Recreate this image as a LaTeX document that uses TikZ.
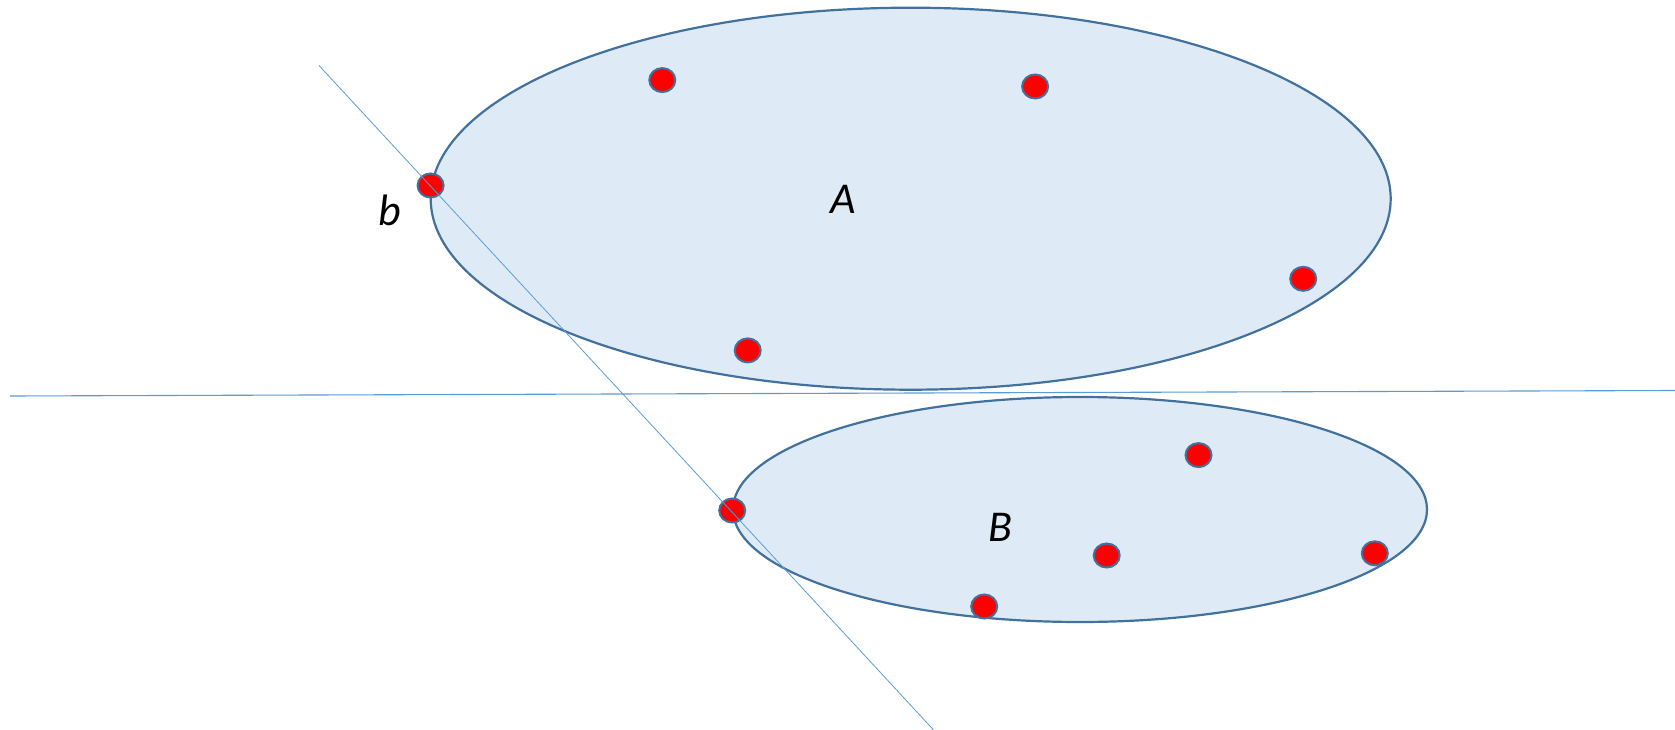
\documentclass[tikz,border=0pt]{standalone}
\usepackage{fontspec}
\setmainfont{Carlito}
\usetikzlibrary{shapes.geometric}
\definecolor{setfill}{HTML}{DEEBF7}
\definecolor{setedge}{HTML}{41719C}
\definecolor{linecol}{HTML}{5B9BD5}
\definecolor{dotred}{HTML}{FF0000}
\begin{document}
\begin{tikzpicture}[x=1pt,y=-1pt,
  setshape/.style={fill=setfill,draw=setedge,line width=2.2pt},
  pt/.style={ellipse,fill=dotred,draw=setedge,line width=2pt,minimum width=26pt,minimum height=24pt,inner sep=0pt},
  sepline/.style={draw=linecol,line width=1.1pt},
  lbl/.style={font=\fontsize{44}{52}\selectfont\itshape,inner sep=0pt}]
\useasboundingbox (0,0) rectangle (1675,730);
% sets
\draw[setshape] (910.7,198.7) ellipse [x radius=480, y radius=191];
\draw[setshape] (1080,509.5) ellipse [x radius=347, y radius=112.5];
% points
\node[pt] (a1) at (662.3,80.1) {};
\node[pt] (a2) at (1035.1,86.5) {};
\node[pt] (b) at (430.6,185.5) {};
\node[pt] (a3) at (1303.2,278.8) {};
\node[pt] (a4) at (747.7,350.4) {};
\node[pt] (b1) at (1198.5,455.1) {};
\node[pt] (b2) at (1106.7,555.5) {};
\node[pt] (b3) at (1374.8,553.3) {};
\node[pt] (b4) at (984.2,606.5) {};
\node[pt] (b5) at (732.2,510.5) {};
% lines
\coordinate (h1) at (10,396);
\coordinate (h2) at (1675,390.5);
\coordinate (d1) at (319,65.5);
\coordinate (d2) at (933.6,730);
\draw[sepline] (h1) -- (h2);
\draw[draw=linecol,line width=0.8pt] (d1) -- (d2);
% labels
\node[lbl] (lA) at (842.8,199.8) {A};
\node[lbl] (lB) at (1000.9,527.7) {B};
\node[lbl] (lb) at (389.9,210.4) {b};
\end{tikzpicture}
\end{document}
